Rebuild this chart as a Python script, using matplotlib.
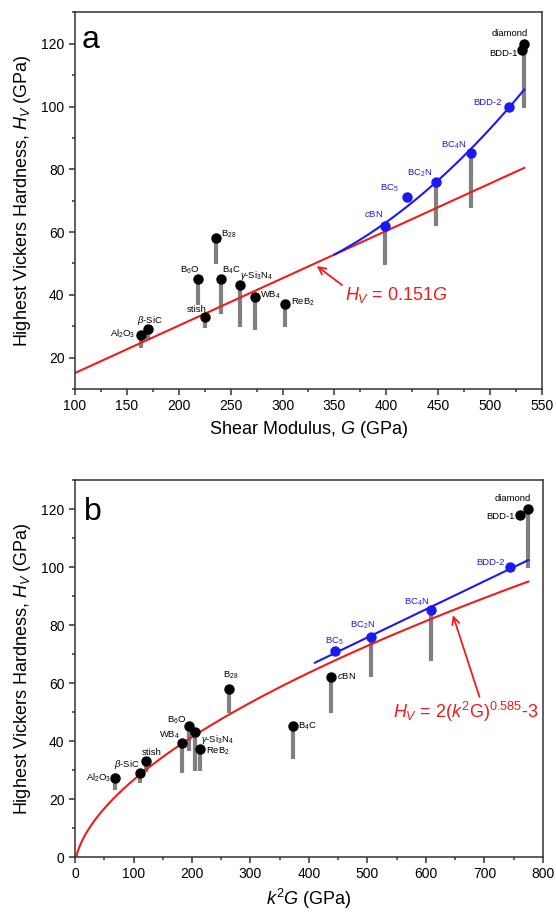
import matplotlib
matplotlib.use("Agg")
import matplotlib.pyplot as plt
import numpy as np
from matplotlib.ticker import MultipleLocator

plt.rcParams['font.family'] = ['Liberation Sans', 'DejaVu Sans']
plt.rcParams['mathtext.fontset'] = 'custom'
plt.rcParams['mathtext.rm'] = 'Liberation Sans'
plt.rcParams['mathtext.it'] = 'Liberation Sans:italic'
plt.rcParams['mathtext.bf'] = 'Liberation Sans:bold'

# ---- data ----
names = ['Al$_2$O$_3$', r'$\beta$-SiC', 'stish', 'B$_6$O', 'B$_4$C', 'B$_{28}$',
         r'$\gamma$-Si$_3$N$_4$', 'WB$_4$', 'ReB$_2$', '$c$BN', 'BC$_5$',
         'BC$_2$N', 'BC$_4$N', 'BDD-2', 'BDD-1', 'diamond']
hv = [27.2, 29.1, 33.0, 45.1, 45.1, 58.1, 43.1, 39.2, 37.2, 62.1, 71.1,
      76.0, 85.2, 100.0, 118.0, 120.0]
hv_low = [23.0, 25.7, 29.3, 36.7, 33.8, 49.7, 29.6, 28.9, 29.6, 49.6, np.nan,
          62.0, 67.6, np.nan, np.nan, 99.6]
shear_g = [163.6, 170.6, 225.6, 218.5, 240.4, 236.0, 259.0, 273.4, 302.6,
           399.0, 419.6, 447.8, 481.6, 517.8, 531.0, 533.0]
k2g = [68.4, 111.0, 121.4, 194.4, 372.0, 263.2, 205.7, 183.5, 213.0,
       437.0, 444.4, 506.0, 608.0, 743.6, 760.7, 775.0]
blue_a = ['$c$BN', 'BC$_5$', 'BC$_2$N', 'BC$_4$N', 'BDD-2']
blue_b = ['BC$_5$', 'BC$_2$N', 'BC$_4$N', 'BDD-2']

# fits
slope_a = 0.151                      # H = 0.151 G
quad_a = (350.0, 52.85, 0.176, 0.000609)   # blue guide, panel a
pow_b = (2.0, 0.585, -3.0)           # H = 2 (k2G)^0.585 - 3
lin_b = (410.0, 67.0, 0.097)         # blue guide, panel b

# label offsets (pixels) and alignment
offs_a = [(-6, 1, 'right'), (2, 9, 'center'), (1, 7, 'right'), (1, 9, 'right'),
          (1, 9, 'left'), (5, 4, 'left'), (0, 10, 'left'), (5, 2, 'left'),
          (6, 1, 'left'), (-2, 12, 'right'), (-8, 9, 'right'), (-4, 9, 'right'),
          (-5, 8, 'right'), (-7, 4, 'right'), (-5, -3, 'right'), (4, 10, 'right')]
offs_b = [(-4, 0, 'right'), (0, 8, 'right'), (-4, 9, 'left'), (-2, 6, 'right'),
          (5, 0, 'left'), (2, 13, 'center'), (6, -7, 'left'), (-2, 8, 'right'),
          (6, -2, 'left'), (6, 1, 'left'), (-1, 10, 'center'), (-8, 11, 'center'),
          (-1, 8, 'right'), (-5, 5, 'right'), (-5, -2, 'right'), (3, 11, 'right')]

RED = '#ee1c1c'
BLUE = '#1a1aee'
GRAY = '#808080'

fig = plt.figure(figsize=(5.56, 9.17), dpi=100)
ax1 = fig.add_axes([0.1349, 0.5758, 0.8399, 0.4106])
ax2 = fig.add_axes([0.1349, 0.0654, 0.8417, 0.4111])


def style(ax):
    for s in ax.spines.values():
        s.set_color('#333333')
        s.set_linewidth(1.1)
    ax.tick_params(which='both', direction='out', top=False, right=False,
                   color='#333333', width=1.1, labelsize=10)
    ax.tick_params(which='major', length=4)
    ax.tick_params(which='minor', length=2.5)


def draw_bars(ax, xs):
    for x, lo, h in zip(xs, hv_low, hv):
        if not np.isnan(lo):
            ax.plot([x, x], [lo, h], color=GRAY, lw=3, solid_capstyle='butt', zorder=1)


def draw_dots(ax, xs, blues, offs):
    for n, x, h, (dx, dy, ha) in zip(names, xs, hv, offs):
        c = BLUE if n in blues else 'black'
        ax.plot(x, h, 'o', color=c, ms=6.5, zorder=5)
        ax.annotate(n, (x, h), xytext=(dx, dy), textcoords='offset pixels',
                    ha=ha, va='center', fontsize=6.8, color=c, zorder=6)


# ---- panel a ----
style(ax1)
draw_bars(ax1, shear_g)
g = np.linspace(100, 533, 200)
ax1.plot(g, slope_a * g, color=RED, lw=1.5, zorder=2)
g0, h0, b1, c2 = quad_a
gb = np.linspace(g0, 533, 200)
ax1.plot(gb, h0 + b1 * (gb - g0) + c2 * (gb - g0) ** 2, color=BLUE, lw=1.5, zorder=3)
draw_dots(ax1, shear_g, blue_a, offs_a)
ax1.annotate('$H_V$ = 0.151$G$', xy=(333, 49.2), xytext=(360, 39.9),
             ha='left', va='center', fontsize=13, color=RED,
             arrowprops=dict(arrowstyle='->', color=RED, lw=1.3,
                             shrinkA=0, shrinkB=0, relpos=(0.0, 0.9)))
ax1.set_xlim(100, 550)
ax1.set_ylim(10, 130)
ax1.xaxis.set_major_locator(MultipleLocator(50))
ax1.xaxis.set_minor_locator(MultipleLocator(25))
ax1.yaxis.set_major_locator(MultipleLocator(20))
ax1.yaxis.set_minor_locator(MultipleLocator(10))
ax1.set_xlabel('Shear Modulus, $G$ (GPa)', fontsize=13, labelpad=4)
ax1.set_ylabel('Highest Vickers Hardness, $H_V$ (GPa)', fontsize=13, labelpad=6)
ax1.text(0.015, 0.906, 'a', transform=ax1.transAxes, fontsize=23, va='baseline')

# ---- panel b ----
style(ax2)
draw_bars(ax2, k2g)
a_, p_, c_ = pow_b
x = np.linspace(0, 775, 400)
ax2.plot(x, a_ * x ** p_ + c_, color=RED, lw=1.5, zorder=2)
x0, y0, m = lin_b
xb = np.linspace(x0, 775, 50)
ax2.plot(xb, y0 + m * (xb - x0), color=BLUE, lw=1.5, zorder=3)
draw_dots(ax2, k2g, blue_b, offs_b)
ax2.annotate('$H_V$ = 2($k^2$G)$^{0.585}$-3', xy=(646, 83.4), xytext=(543.6, 50.1),
             ha='left', va='center', fontsize=13, color=RED,
             arrowprops=dict(arrowstyle='->', color=RED, lw=1.3,
                             shrinkA=0, shrinkB=0, relpos=(0.6, 1.0)))
ax2.set_xlim(0, 800)
ax2.set_ylim(0, 130)
ax2.xaxis.set_major_locator(MultipleLocator(100))
ax2.xaxis.set_minor_locator(MultipleLocator(50))
ax2.yaxis.set_major_locator(MultipleLocator(20))
ax2.yaxis.set_minor_locator(MultipleLocator(10))
ax2.set_xlabel('$k^2G$ (GPa)', fontsize=13, labelpad=4)
ax2.set_ylabel('Highest Vickers Hardness, $H_V$ (GPa)', fontsize=13, labelpad=6)
ax2.text(0.019, 0.894, 'b', transform=ax2.transAxes, fontsize=23, va='baseline')

fig.savefig('out.png', dpi=100)
